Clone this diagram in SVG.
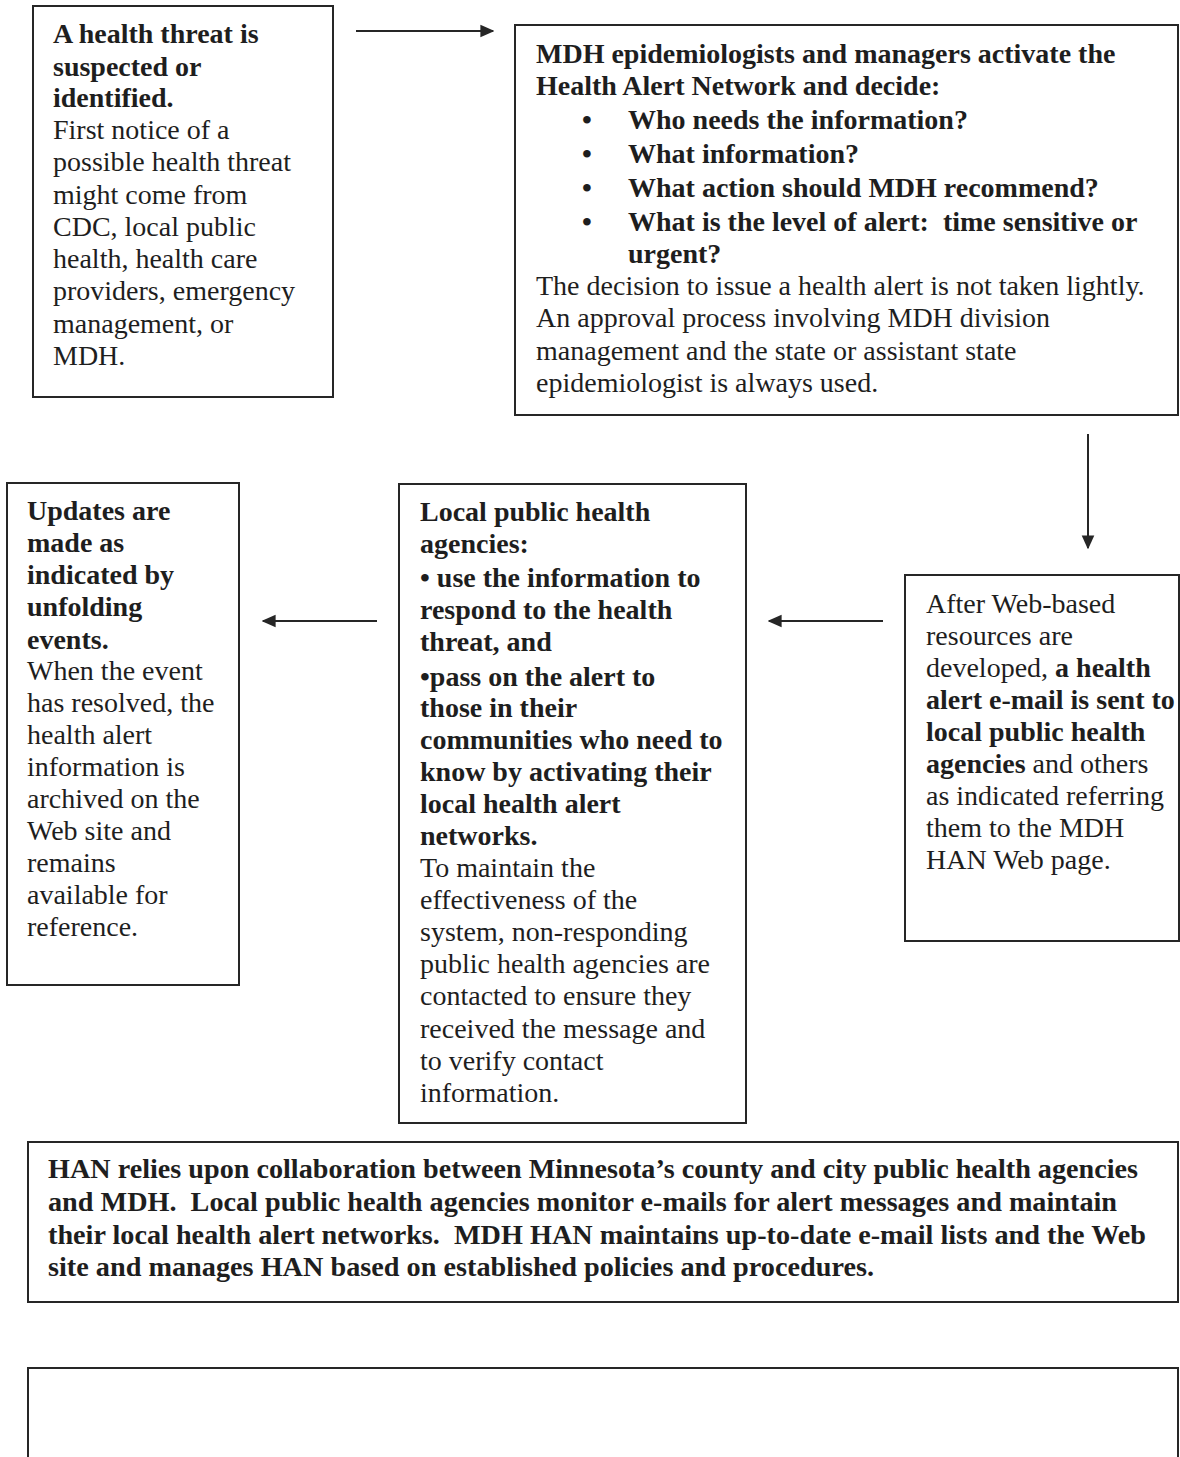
<svg xmlns="http://www.w3.org/2000/svg" width="1180" height="1457" viewBox="0 0 1180 1457">
<style>
.box{fill:#fff;stroke:#262626;stroke-width:2}
text{font-family:"Liberation Serif","Times New Roman",serif;font-size:28px;fill:#1e1e1e}
.b{font-weight:bold}
.conn{stroke:#262626;stroke-width:2;fill:none}
</style>
<defs>
<marker id="ah" viewBox="0 0 10 10" refX="9" refY="5" markerWidth="7" markerHeight="7" orient="auto" markerUnits="strokeWidth">
<path d="M0,0.5 L10,5 L0,9.5 z" fill="#262626"/>
</marker>
</defs>
<rect width="1180" height="1457" fill="#fff"/>
<g id="connectors">
<line class="conn" x1="356" y1="31" x2="493" y2="31" marker-end="url(#ah)"/>
<line class="conn" x1="1088" y1="434" x2="1088" y2="548" marker-end="url(#ah)"/>
<line class="conn" x1="883" y1="621" x2="769" y2="621" marker-end="url(#ah)"/>
<line class="conn" x1="377" y1="621" x2="263" y2="621" marker-end="url(#ah)"/>
</g>
<g id="node-threat">
<rect class="box" x="33" y="6" width="300" height="391"/>
<text x="53" y="43" class="b">A health threat is</text>
<text x="53" y="76" class="b">suspected or</text>
<text x="53" y="107" class="b">identified.</text>
<text x="53" y="139">First notice of a</text>
<text x="53" y="171">possible health threat</text>
<text x="53" y="204">might come from</text>
<text x="53" y="236">CDC, local public</text>
<text x="53" y="268">health, health care</text>
<text x="53" y="300">providers, emergency</text>
<text x="53" y="333">management, or</text>
<text x="53" y="365">MDH.</text>
</g>
<g id="node-activate">
<rect class="box" x="515" y="25" width="663" height="390"/>
<text x="536" y="63" class="b">MDH epidemiologists and managers activate the</text>
<text x="536" y="95" class="b">Health Alert Network and decide:</text>
<text x="582" y="129" class="b">•</text>
<text x="628" y="129" class="b">Who needs the information?</text>
<text x="582" y="163" class="b">•</text>
<text x="628" y="163" class="b">What information?</text>
<text x="582" y="197" class="b">•</text>
<text x="628" y="197" class="b">What action should MDH recommend?</text>
<text x="582" y="231" class="b">•</text>
<text x="628" y="231" class="b" xml:space="preserve">What is the level of alert:  time sensitive or</text>
<text x="628" y="263" class="b">urgent?</text>
<text x="536" y="295">The decision to issue a health alert is not taken lightly.</text>
<text x="536" y="327">An approval process involving MDH division</text>
<text x="536" y="360">management and the state or assistant state</text>
<text x="536" y="392">epidemiologist is always used.</text>
</g>
<g id="node-email">
<rect class="box" x="905" y="575" width="274" height="366"/>
<text x="926" y="613">After Web-based</text>
<text x="926" y="645">resources are</text>
<text x="926" y="677">developed, <tspan class="b">a health</tspan></text>
<text x="926" y="709" class="b">alert e-mail is sent to</text>
<text x="926" y="741" class="b">local public health</text>
<text x="926" y="773"><tspan class="b">agencies</tspan> and others</text>
<text x="926" y="805">as indicated referring</text>
<text x="926" y="837">them to the MDH</text>
<text x="926" y="869">HAN Web page.</text>
</g>
<g id="node-local">
<rect class="box" x="399" y="484" width="347" height="639"/>
<text x="420" y="521" class="b">Local public health</text>
<text x="420" y="553" class="b">agencies:</text>
<text x="420" y="587" class="b">• use the information to</text>
<text x="420" y="619" class="b">respond to the health</text>
<text x="420" y="651" class="b">threat, and</text>
<text x="420" y="686" class="b">•pass on the alert to</text>
<text x="420" y="717" class="b">those in their</text>
<text x="420" y="749" class="b">communities who need to</text>
<text x="420" y="781" class="b">know by activating their</text>
<text x="420" y="813" class="b">local health alert</text>
<text x="420" y="845" class="b">networks.</text>
<text x="420" y="877">To maintain the</text>
<text x="420" y="909">effectiveness of the</text>
<text x="420" y="941">system, non-responding</text>
<text x="420" y="973">public health agencies are</text>
<text x="420" y="1005">contacted to ensure they</text>
<text x="420" y="1038">received the message and</text>
<text x="420" y="1070">to verify contact</text>
<text x="420" y="1102">information.</text>
</g>
<g id="node-updates">
<rect class="box" x="7" y="483" width="232" height="502"/>
<text x="27" y="520" class="b">Updates are</text>
<text x="27" y="552" class="b">made as</text>
<text x="27" y="584" class="b">indicated by</text>
<text x="27" y="616" class="b">unfolding</text>
<text x="27" y="649" class="b">events.</text>
<text x="27" y="680">When the event</text>
<text x="27" y="712">has resolved, the</text>
<text x="27" y="744">health alert</text>
<text x="27" y="776">information is</text>
<text x="27" y="808">archived on the</text>
<text x="27" y="840">Web site and</text>
<text x="27" y="872">remains</text>
<text x="27" y="904">available for</text>
<text x="27" y="936">reference.</text>
</g>
<g id="node-collaboration">
<rect class="box" x="28" y="1142" width="1150" height="160"/>
<text x="48" y="1178" class="b" textLength="1090" lengthAdjust="spacingAndGlyphs">HAN relies upon collaboration between Minnesota’s county and city public health agencies</text>
<text x="48" y="1211" class="b" textLength="1069" lengthAdjust="spacingAndGlyphs" xml:space="preserve">and MDH.  Local public health agencies monitor e-mails for alert messages and maintain</text>
<text x="48" y="1244" class="b" textLength="1098" lengthAdjust="spacingAndGlyphs" xml:space="preserve">their local health alert networks.  MDH HAN maintains up-to-date e-mail lists and the Web</text>
<text x="48" y="1276" class="b" textLength="826" lengthAdjust="spacingAndGlyphs">site and manages HAN based on established policies and procedures.</text>
</g>
<g id="node-empty">
<rect class="box" x="28" y="1368" width="1150" height="110"/>
</g>
</svg>
